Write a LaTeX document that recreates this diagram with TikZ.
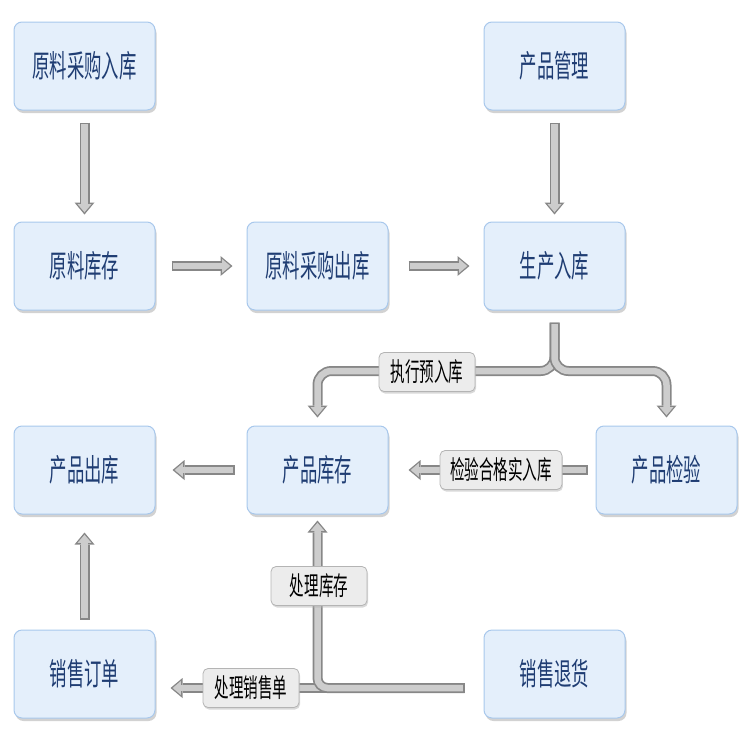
\documentclass[tikz,border=0pt]{standalone}
\usepackage{fontspec}
\newfontfamily\cjkfont[FakeStretch=0.56]{Noto Sans CJK SC}
\usepackage{tikz}
\usetikzlibrary{arrows.meta,shadows,calc}
\usepackage{xcolor}
\definecolor{boxfill}{RGB}{228,239,251}
\definecolor{boxedge}{RGB}{168,200,236}
\definecolor{boxtext}{RGB}{31,61,115}
\definecolor{pipeedge}{RGB}{135,135,135}
\definecolor{pipefill}{RGB}{205,205,205}
\definecolor{tagfill}{RGB}{236,236,236}
\definecolor{tagedge}{RGB}{180,180,180}
\newcommand{\bxfont}{\cjkfont\fontsize{31}{33}\selectfont}
\newcommand{\tgfont}{\cjkfont\fontsize{26}{28}\selectfont}
\tikzstyle{stepbox} = [rectangle, rounded corners=8pt, minimum width=141pt, minimum height=88pt, text centered, draw=boxedge, fill=boxfill, line width=1pt, text=boxtext, font=\bxfont, drop shadow={shadow xshift=1.5pt, shadow yshift=-3pt, fill=black!35}]
\tikzstyle{tagbox} = [rectangle, rounded corners=5pt, minimum width=96pt, minimum height=39pt, inner xsep=10pt, draw=tagedge, fill=tagfill, line width=0.8pt, text=black, font=\tgfont, drop shadow={shadow xshift=1pt, shadow yshift=-2pt, fill=black!30}]
\tikzstyle{pipe} = [line width=10pt, draw=pipeedge, -{Triangle[length=12pt,width=20pt,line width=0pt]}, postaction={draw=pipefill, line width=6.5pt, shorten <=1.6pt, shorten >=2.2pt, -{Triangle[length=8.2pt,width=14pt,line width=0pt]}}]

\begin{document}
\begin{tikzpicture}[x=1pt, y=-1pt]
\useasboundingbox (0,0) rectangle (750,750);
% Boxes
\node[stepbox] (rcrk) at (84.5,66) {原料采购入库};
\node[stepbox] (cpgl) at (554.5,66) {产品管理};
\node[stepbox] (ylkc) at (84.5,266) {原料库存};
\node[stepbox] (ylck) at (317.5,266) {原料采购出库};
\node[stepbox] (scrk) at (554.5,266) {生产入库};
\node[stepbox] (cpck) at (84.5,470) {产品出库};
\node[stepbox] (cpkc) at (317.5,470) {产品库存};
\node[stepbox] (cpjy) at (666.5,470) {产品检验};
\node[stepbox] (xsdd) at (84.5,674) {销售订单};
\node[stepbox] (xsth) at (554.5,674) {销售退货};
\coordinate (fork) at (554.5,371);

% Arrows
\draw[pipe] ([yshift=-12pt]rcrk.south) -- ([yshift=7pt]ylkc.north);
\draw[pipe] ([yshift=-12pt]cpgl.south) -- ([yshift=7pt]scrk.north);
\draw[pipe] ([xshift=16pt]ylkc.east) -- ([xshift=-14pt]ylck.west);
\draw[pipe] ([xshift=20pt]ylck.east) -- ([xshift=-14pt]scrk.west);
\draw[pipe, rounded corners=14pt] ([yshift=-12pt]scrk.south) -- (fork) -| ([yshift=8pt]cpkc.north);
\draw[pipe, rounded corners=14pt] ([yshift=-12pt]scrk.south) -- (fork) -| ([yshift=8pt]cpjy.north);
\draw[pipe] ([xshift=-8pt]cpjy.west) -- ([xshift=20pt]cpkc.east);
\draw[pipe] ([xshift=-12pt]cpkc.west) -- ([xshift=17pt]cpck.east);
\draw[pipe] ([yshift=10pt]xsdd.north) -- ([yshift=-18pt]cpck.south);
\draw[pipe] ([xshift=-19pt,yshift=-14pt]xsth.west) -- ([xshift=15pt,yshift=-14pt]xsdd.east);
\draw[pipe, rounded corners=10pt] ([xshift=-19pt,yshift=-14pt]xsth.west) -| ([yshift=-6pt]cpkc.south);

% Labels
\node[tagbox] (lblyr) at (427,372) {执行预入库};
\node[tagbox] (lbljy) at (501,470) {检验合格实入库};
\node[tagbox] (lblkc) at (319,586) {处理库存};
\node[tagbox] (lblxs) at (251,688) {处理销售单};
\end{tikzpicture}
\end{document}
